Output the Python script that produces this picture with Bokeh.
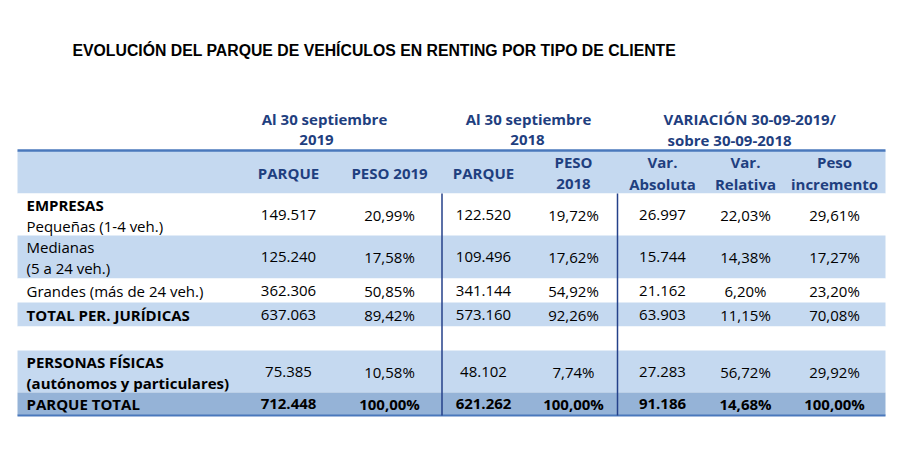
from bokeh.plotting import figure
from bokeh.models import Range1d, ColumnDataSource
from bokeh.core.properties import value
from bokeh.embed import file_html
from bokeh.resources import INLINE

# ---------------- data ----------------
title = "EVOLUCIÓN DEL PARQUE DE VEHÍCULOS EN RENTING POR TIPO DE CLIENTE"
group_headers = [["Al 30 septiembre", "2019"], ["Al 30 septiembre", "2018"],
                 ["VARIACIÓN 30-09-2019/", "sobre 30-09-2018"]]
col_headers = [["PARQUE"], ["PESO 2019"], ["PARQUE"], ["PESO", "2018"],
               ["Var.", "Absoluta"], ["Var.", "Relativa"], ["Peso", "incremento"]]
row_labels = [["EMPRESAS", "Pequeñas (1-4 veh.)"], ["Medianas", "(5 a 24 veh.)"],
              ["Grandes (más de 24 veh.)"], ["TOTAL PER. JURÍDICAS"], [],
              ["PERSONAS FÍSICAS", "(autónomos y particulares)"], ["PARQUE TOTAL"]]
label_bold = [[True, False], [False, False], [False], [True], [], [True, True], [True]]
parque_2019 = ["149.517", "125.240", "362.306", "637.063", "", "75.385", "712.448"]
peso_2019 = ["20,99%", "17,58%", "50,85%", "89,42%", "", "10,58%", "100,00%"]
parque_2018 = ["122.520", "109.496", "341.144", "573.160", "", "48.102", "621.262"]
peso_2018 = ["19,72%", "17,62%", "54,92%", "92,26%", "", "7,74%", "100,00%"]
var_absoluta = ["26.997", "15.744", "21.162", "63.903", "", "27.283", "91.186"]
var_relativa = ["22,03%", "14,38%", "6,20%", "11,15%", "", "56,72%", "14,68%"]
peso_incremento = ["29,61%", "17,27%", "23,20%", "70,08%", "", "29,92%", "100,00%"]
row_bold = [False, False, False, False, False, False, True]

# ---------------- layout (screen pixels) ----------------
W, H = 890, 445
FONT = "Open Sans"
BLUE_TXT = "#1F3F7F"
LIGHT = "#C5D9F0"
DARK = "#95B3D7"
LINE = "#4A78BC"
VLINE = "#24418A"

table_left, table_right = 17, 885
label_x = 26
col_x = [288, 389, 483, 573, 662, 745, 834]
row_edges = [193, 235, 278, 302, 326, 350, 392, 415]
row_fill = ["white", LIGHT, "white", LIGHT, "white", LIGHT, DARK]
header_top = 150

p = figure(width=W, height=H, output_backend="svg", toolbar_location=None,
           x_range=Range1d(0, W), y_range=Range1d(H, 0),
           min_border=0, outline_line_color=None)
p.axis.visible = False
p.grid.visible = False
p.background_fill_color = "white"
p.border_fill_color = "white"

# backgrounds
p.quad(left=[table_left], right=[table_right], top=[header_top], bottom=[row_edges[0]],
       fill_color=LIGHT, line_color=None)
p.quad(left=[table_left] * 7, right=[table_right] * 7,
       top=row_edges[:-1], bottom=row_edges[1:], fill_color=row_fill, line_color=None)

# lines
p.segment(x0=[table_left], x1=[table_right], y0=[header_top], y1=[header_top],
          line_color=LINE, line_width=2.5)
p.segment(x0=[table_left], x1=[table_right], y0=[row_edges[-1]], y1=[row_edges[-1]],
          line_color=LINE, line_width=2)
p.segment(x0=[441.5, 617], x1=[441.5, 617], y0=[row_edges[0]] * 2, y1=[row_edges[-1]] * 2,
          line_color=VLINE, line_width=1.5)

def put(xs, ys, texts, align="center", bold=False, color="black", size="15px", font=FONT):
    src = ColumnDataSource(dict(x=xs, y=ys, t=texts))
    p.text(x="x", y="y", text="t", source=src, text_align=align, text_baseline="middle",
           text_font=value(font), text_font_size=size,
           text_font_style="bold" if bold else "normal", text_color=color)

# title
put([72], [50], [title], align="left", bold=True, color="black", size="15.8px",
    font="Liberation Sans")

# group headers
put([324], [118], [group_headers[0][0]], bold=True, color=BLUE_TXT)
put([316], [139], [group_headers[0][1]], bold=True, color=BLUE_TXT)
put([528], [118], [group_headers[1][0]], bold=True, color=BLUE_TXT)
put([527], [139], [group_headers[1][1]], bold=True, color=BLUE_TXT)
put([663], [118], [group_headers[2][0]], align="left", bold=True, color=BLUE_TXT)
put([667], [139], [group_headers[2][1]], align="left", bold=True, color=BLUE_TXT)

# column headers
for cx, lines in zip(col_x, col_headers):
    if len(lines) == 1:
        put([cx], [172], lines, bold=True, color=BLUE_TXT)
    else:
        put([cx], [161], [lines[0]], bold=True, color=BLUE_TXT)
        put([cx], [183], [lines[1]], bold=True, color=BLUE_TXT)

# row labels and values
columns = [parque_2019, peso_2019, parque_2018, peso_2018, var_absoluta, var_relativa, peso_incremento]
for i in range(7):
    top, bot = row_edges[i], row_edges[i + 1]
    mid = (top + bot) / 2
    labs = row_labels[i]
    if len(labs) == 2:
        put([label_x], [mid - 10], [labs[0]], align="left", bold=label_bold[i][0])
        put([label_x], [mid + 11], [labs[1]], align="left", bold=label_bold[i][1])
    elif len(labs) == 1:
        put([label_x], [mid], [labs[0]], align="left", bold=label_bold[i][0])
    vals = [c[i] for c in columns]
    if any(vals):
        put(col_x, [mid] * 7, vals, bold=row_bold[i])

open("out.html", "w").write(file_html(p, INLINE))
